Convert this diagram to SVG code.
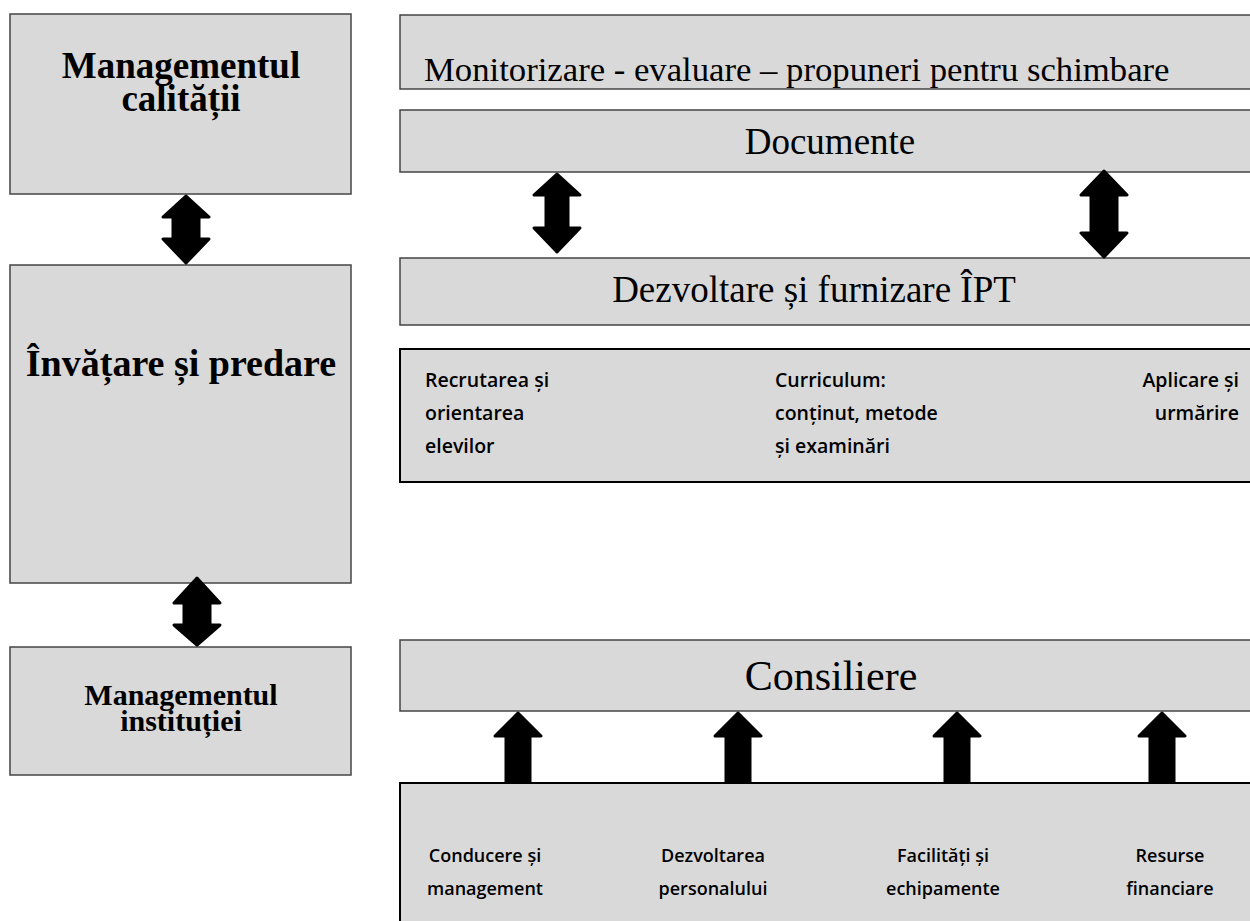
<svg xmlns="http://www.w3.org/2000/svg" width="1250" height="921" viewBox="0 0 1250 921">
<defs>
<style>
.box{fill:#d9d9d9;stroke:#444;stroke-width:1.5}
.boxd{fill:#d9d9d9;stroke:#000;stroke-width:2}
.arr{fill:#000;stroke:#000;stroke-width:3;stroke-linejoin:round}
.sb{font-family:"Liberation Serif","Times New Roman",serif;font-weight:bold;fill:#000;text-anchor:middle}
.sr{font-family:"Liberation Serif","Times New Roman",serif;fill:#000}
.ss{font-family:"Open Sans","Liberation Sans",sans-serif;font-weight:600;font-size:18px;fill:#000}
.sl{font-size:19.5px}
</style>
</defs>
<rect width="1250" height="921" fill="#fff"/>
<g id="managementul-calitatii">
<rect class="box" x="10" y="14" width="341" height="180"/>
<text class="sb" x="181" y="78" font-size="37">Managementul</text>
<text class="sb" x="181" y="111" font-size="37">calității</text>
</g>
<g id="invatare-predare">
<rect class="box" x="10" y="265" width="341" height="318"/>
<text class="sb" x="181" y="376" font-size="38">Învățare și predare</text>
</g>
<g id="managementul-institutiei">
<rect class="box" x="10" y="647" width="341" height="128"/>
<text class="sb" x="181" y="705" font-size="30">Managementul</text>
<text class="sb" x="181" y="731" font-size="30">instituției</text>
</g>
<g id="monitorizare">
<rect class="box" x="400" y="15" width="870" height="74"/>
<text class="sr" x="424" y="81" font-size="34.7">Monitorizare - evaluare – propuneri pentru schimbare</text>
</g>
<g id="documente">
<rect class="box" x="400" y="110" width="870" height="62"/>
<text class="sr" x="830" y="154" font-size="37" text-anchor="middle">Documente</text>
</g>
<g id="dezvoltare">
<rect class="box" x="400" y="258" width="870" height="67"/>
<text class="sr" x="814" y="302" font-size="37" text-anchor="middle">Dezvoltare și furnizare ÎPT</text>
</g>
<g id="componente-ipt">
<rect class="boxd" x="400" y="349" width="870" height="133"/>
<text class="ss sl" x="425" y="387">Recrutarea și</text>
<text class="ss sl" x="425" y="420">orientarea</text>
<text class="ss sl" x="425" y="453">elevilor</text>
<text class="ss sl" x="775" y="387">Curriculum:</text>
<text class="ss sl" x="775" y="420">conținut, metode</text>
<text class="ss sl" x="775" y="453">și examinări</text>
<text class="ss sl" x="1239" y="387" text-anchor="end">Aplicare și</text>
<text class="ss sl" x="1239" y="420" text-anchor="end">urmărire</text>
</g>
<g id="consiliere">
<rect class="box" x="400" y="640" width="870" height="71"/>
<text class="sr" x="831" y="690" font-size="42" text-anchor="middle">Consiliere</text>
</g>
<g id="resurse">
<rect class="boxd" x="400" y="783" width="870" height="160"/>
<text class="ss" x="485" y="862" text-anchor="middle">Conducere și</text>
<text class="ss" x="485" y="895" text-anchor="middle">management</text>
<text class="ss" x="713" y="862" text-anchor="middle">Dezvoltarea</text>
<text class="ss" x="713" y="895" text-anchor="middle">personalului</text>
<text class="ss" x="943" y="862" text-anchor="middle">Facilități și</text>
<text class="ss" x="943" y="895" text-anchor="middle">echipamente</text>
<text class="ss" x="1170" y="862" text-anchor="middle">Resurse</text>
<text class="ss" x="1170" y="895" text-anchor="middle">financiare</text>
</g>
<g id="connectors">
<path class="arr" d="M186,196 L209,217 L199,217 L199,239 L209,239 L186,263 L163,239 L173,239 L173,217 L163,217 Z"/>
<path class="arr" d="M197,578 L220,603 L210,603 L210,625 L220,625 L197,645 L174,625 L184,625 L184,603 L174,603 Z"/>
<path class="arr" d="M557,174 L580,195 L568,195 L568,228 L580,228 L557,252 L534,228 L546,228 L546,195 L534,195 Z"/>
<path class="arr" d="M1104,171 L1127,195 L1117,195 L1117,233 L1127,233 L1104,257 L1081,233 L1091,233 L1091,195 L1081,195 Z"/>
<path class="arr" d="M518,713 L541,736 L530,736 L530,782 L506,782 L506,736 L495,736 Z"/>
<path class="arr" d="M738,713 L761,736 L750,736 L750,782 L726,782 L726,736 L715,736 Z"/>
<path class="arr" d="M957,713 L980,736 L969,736 L969,782 L945,782 L945,736 L934,736 Z"/>
<path class="arr" d="M1162,713 L1185,736 L1174,736 L1174,782 L1150,782 L1150,736 L1139,736 Z"/>
</g>
</svg>
